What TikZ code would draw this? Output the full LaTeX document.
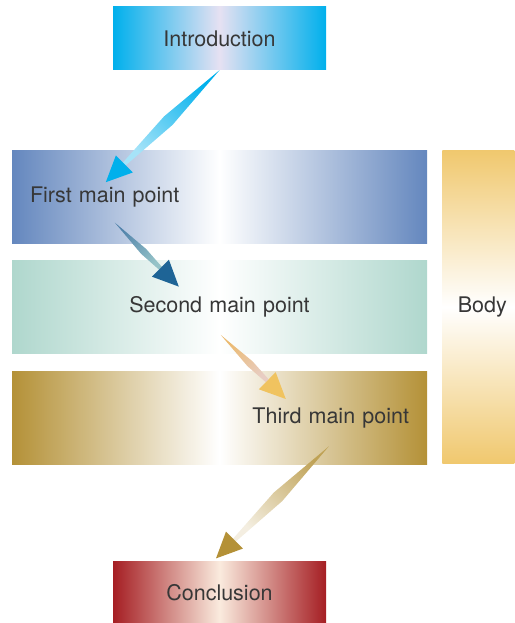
\documentclass[tikz,border=0pt]{standalone}
\usepackage{fontspec}
\setmainfont{TeX Gyre Heros}
\usetikzlibrary{positioning,calc}

\definecolor{introblue}{RGB}{0,176,236}
\definecolor{introlilac}{RGB}{230,225,242}
\definecolor{firstblue}{RGB}{100,135,190}
\definecolor{secondteal}{RGB}{175,215,205}
\definecolor{thirdgold}{RGB}{180,145,55}
\definecolor{bodygold}{RGB}{240,200,110}
\definecolor{conclred}{RGB}{165,30,35}
\definecolor{conclcream}{RGB}{250,235,222}
\definecolor{textgray}{RGB}{55,55,55}
\definecolor{steelblue}{RGB}{80,130,170}
\definecolor{paleteal}{RGB}{150,195,200}
\definecolor{deepblue}{RGB}{30,100,150}
\definecolor{peach}{RGB}{235,185,110}
\definecolor{palepink}{RGB}{232,205,195}
\definecolor{sunyellow}{RGB}{240,195,95}

% tapered arrow: from, to, shaft half width, tail colour, neck colour, head colour, shading angle
\newcommand{\taperarrow}[7]{%
  \path[top color=#4, bottom color=#5, shading angle=#7]
    (#1) -- ($(#1)!0.45!(#2)!#3!90:(#2)$) -- ($(#2)!26pt!(#1)!2pt!-90:(#1)$)
    -- ($(#2)!26pt!(#1)!2pt!90:(#1)$) -- ($(#1)!0.45!(#2)!#3!-90:(#2)$) -- cycle;
  \fill[#6] (#2) -- ($(#2)!26pt!(#1)!12pt!90:(#1)$) -- ($(#2)!26pt!(#1)!12pt!-90:(#1)$) -- cycle;
}

\begin{document}
\begin{tikzpicture}[
    x=1pt, y=1pt,
    box/.style={rectangle, inner sep=0pt, text=textgray, font=\fontsize{21.5pt}{25pt}\selectfont},
    endbox/.style={box, minimum width=213pt},
    pointbox/.style={box, inner xsep=18pt, text width=379pt, minimum height=93pt},
    bodybox/.style={box, minimum width=72pt, minimum height=313pt}
]
    \useasboundingbox (0,0) rectangle (514,623);

    \node[endbox, minimum height=63pt, left color=introblue, right color=introblue, middle color=introlilac] (intro) at (219.5,584.5) {Introduction};
    \node[pointbox, align=left, left color=firstblue, right color=firstblue, middle color=white, below=80pt of intro] (first) {First main point};
    \node[pointbox, align=center, left color=secondteal, right color=secondteal, middle color=white, below=17pt of first] (second) {Second main point};
    \node[pointbox, align=right, left color=thirdgold, right color=thirdgold, middle color=white, below=17pt of second] (third) {Third main point};
    \node[endbox, minimum height=62pt, left color=conclred, right color=conclred, middle color=conclcream, below=97pt of third] (concl) {Conclusion};
    \node[bodybox, anchor=north west, top color=bodygold, bottom color=bodygold, middle color=white] (body) at ($(first.north east)+(15,0)$) {\hspace{8pt}Body};

    % arrow ends
    \coordinate (introtail) at (intro.south);
    \coordinate (firsttip) at ($(first.north west)+(94,-32)$);
    \coordinate (firsttail) at ($(first.south west)+(103,21)$);
    \coordinate (secondtip) at ($(second.north west)+(167,-26)$);
    \coordinate (secondtail) at ($(second.south west)+(209,19)$);
    \coordinate (thirdtip) at ($(third.north west)+(274,-28)$);
    \coordinate (thirdtail) at ($(third.south west)+(317,18)$);
    \coordinate (concltip) at ($(concl.north)+(-3.5,3)$);

    \taperarrow{introtail}{firsttip}{6pt}{introblue}{introblue!35}{introblue}{-45}
    \taperarrow{firsttail}{secondtip}{3.5pt}{steelblue}{paleteal}{deepblue}{45}
    \taperarrow{secondtail}{thirdtip}{3.5pt}{peach}{palepink}{sunyellow}{45}
    \taperarrow{thirdtail}{concltip}{6pt}{thirdgold!85!white}{thirdgold!15!white}{thirdgold}{-45}
\end{tikzpicture}
\end{document}
